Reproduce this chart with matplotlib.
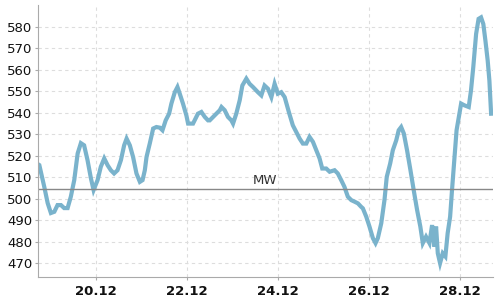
import numpy as np
import pandas as pd
import matplotlib
matplotlib.use('Agg')
import matplotlib.pyplot as plt
import matplotlib.dates as mdates
import matplotlib.transforms as mtransforms

# stunden ab 18.12. 00:00 und messwerte
hours = [17.5, 18.2, 20.8, 22.6, 24.3, 26.1, 27.8, 29.6, 31.3, 33.1, 34.8, 36.6,
         38.4, 40.1, 41.8, 43.6, 45.4, 46.8, 48.9, 50.6, 52.4, 54.2, 55.9, 57.6,
         59.4, 61.2, 62.9, 64.2, 65.9, 67.6, 69.4, 71.2, 72.6, 73.8, 74.7, 76.4,
         78.2, 79.9, 81.7, 83.1, 84.8, 86.6, 87.8, 89.6, 91.0, 92.2, 93.9, 95.7,
         96.6, 99.2, 101.8, 103.6, 105.4, 107.1, 108.0, 110.6, 113.3, 114.2, 115.9,
         117.6, 119.4, 120.3, 122.0, 123.8, 125.2, 127.3, 129.0, 130.8, 133.4, 135.2,
         136.9, 138.7, 140.5, 142.2, 143.9, 145.7, 147.5, 149.7, 151.8, 153.6, 155.4,
         157.1, 158.9, 160.6, 162.4, 164.2, 165.9, 167.3, 169.4, 171.2, 173.8, 175.5,
         177.3, 179.0, 180.8, 182.6, 184.3, 186.1, 187.8, 188.7, 190.5, 192.2, 194.0,
         195.4, 196.6, 198.4, 200.1, 201.3, 203.1, 204.5, 206.3, 207.6, 208.9, 210.3,
         212.0, 213.8, 215.5, 217.3, 219.0, 220.3, 222.0, 223.8, 225.2, 226.4, 227.3,
         228.2, 229.4, 230.8, 232.2, 233.4, 234.7, 235.7, 236.9, 238.1, 239.6, 240.5,
         242.2, 244.5, 245.7, 246.9, 248.4, 249.7, 251.0, 252.2, 253.3, 254.5, 255.4,
         256.3]
values = [516.0, 515.6, 505.5, 497.9, 493.3, 493.9, 497.0, 497.0, 495.6, 495.6, 500.9, 508.6,
          521.0, 525.8, 524.8, 517.9, 509.4, 504.0, 508.6, 514.8, 518.7, 515.5, 513.2, 511.7,
          513.2, 517.9, 524.8, 527.9, 524.8, 519.4, 511.7, 507.8, 508.6, 513.2, 519.4, 525.6,
          532.6, 533.3, 533.0, 531.8, 536.4, 539.5, 544.2, 549.5, 551.9, 548.8, 544.2, 538.7,
          534.9, 534.9, 539.5, 540.3, 538.0, 536.4, 536.4, 538.7, 541.1, 542.6, 541.1,
          538.0, 536.4, 534.9, 539.5, 545.7, 552.6, 555.8, 553.4, 551.9, 549.5, 548.0,
          552.6, 551.1, 547.2, 553.4, 548.8, 549.5, 547.2, 540.3, 534.1, 531.0, 527.9,
          525.6, 525.6, 528.7, 526.4, 522.5, 518.7, 514.0, 514.0, 512.5, 513.2, 511.7,
          508.6, 505.5, 500.9, 499.3, 498.6, 497.8, 496.2, 495.5, 491.6, 487.0, 481.6,
          479.3, 481.6, 488.5, 499.3, 510.1, 516.3, 522.5, 527.1, 531.8, 533.3, 530.3,
          522.5, 513.2, 504.0, 494.7, 487.0, 479.3, 482.3, 479.3, 487.7, 477.7, 487.0,
          474.6, 470.0, 474.6, 473.1, 483.9, 491.6, 504.0, 517.9, 531.8, 539.5, 544.2,
          543.4, 542.6, 550.3, 561.1, 576.6, 583.6, 584.3, 581.2, 573.5, 564.2, 554.9,
          539.5]
mittelwert = 504.3
yticks = [470, 480, 490, 500, 510, 520, 530, 540, 550, 560, 570, 580]

start = pd.Timestamp('2023-12-18')
times = start + pd.to_timedelta(hours, unit='h')

fig = plt.figure(figsize=(5, 3), dpi=100)
ax = fig.add_axes([0.076, 0.077, 0.91, 0.906])

ax.plot(times, values, color='#7ab3cc', linewidth=3, solid_joinstyle='miter')

# mittelwert-linie
ax.axhline(mittelwert, color='#888888', linewidth=1)
trans = mtransforms.blended_transform_factory(ax.transAxes, ax.transData)
ax.text(0.5, mittelwert + 1.0, 'MW', transform=trans, ha='center', va='bottom',
        fontsize=9.5, color='#333333')

ax.set_xlim(start + pd.Timedelta(hours=17.5), start + pd.Timedelta(hours=257.3))
ax.set_ylim(463.6, 590)
ax.set_yticks(yticks)
ax.xaxis.set_major_locator(mdates.DayLocator(bymonthday=[20, 22, 24, 26, 28]))
ax.xaxis.set_major_formatter(mdates.DateFormatter('%d.%m'))

ax.grid(True, linestyle=(0, (3, 3)), color='#dddddd', linewidth=0.8)
ax.set_axisbelow(True)
for s in ['top', 'right']:
    ax.spines[s].set_visible(False)
for s in ['left', 'bottom']:
    ax.spines[s].set_color('#aaaaaa')
ax.tick_params(axis='both', length=2, width=0.8, color='#aaaaaa',
               labelsize=9.5, labelcolor='#111111')
ax.tick_params(axis='y', pad=2)
ax.tick_params(axis='x', pad=4)
for lbl in ax.get_xticklabels():
    lbl.set_fontweight('bold')

fig.savefig('out.png', dpi=100)
